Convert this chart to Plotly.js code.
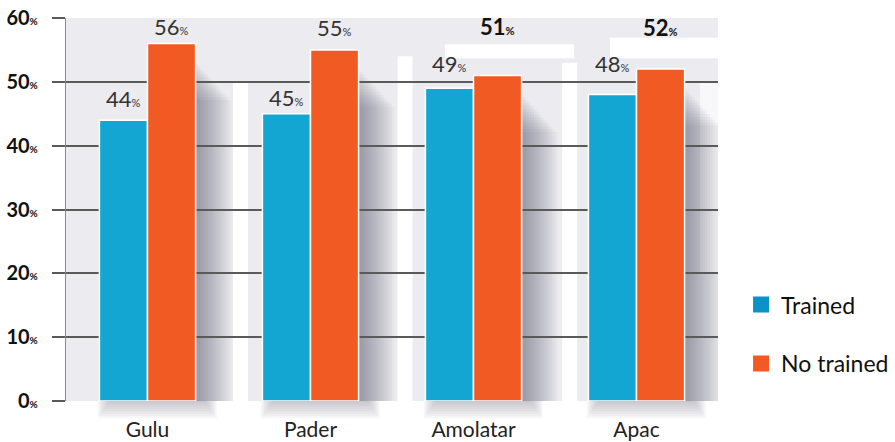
<!DOCTYPE html>
<html>
<head>
<meta charset="utf-8">
<script src="https://cdn.plot.ly/plotly-3.0.1.min.js"></script>
<style>
  html, body { margin: 0; padding: 0; background: #ffffff; }
  #chart { width: 895px; height: 442px; }
</style>
</head>
<body>
<div id="chart"></div>
<script>
// Share of respondents by district, trained vs not trained
const districts = ['Gulu', 'Pader', 'Amolatar', 'Apac'];
const trained = [44, 45, 49, 48];
const noTrained = [56, 55, 51, 52];
const yTicks = [0, 10, 20, 30, 40, 50, 60];

const BLUE = '#13a6d3';
const ORANGE = '#f15a22';

// value label offsets (pixels above bar top) and weight
const trainedLift = [6, 1, 9, 16];
const noTrainedLift = [2, 7, 33, 26];
const noTrainedBold = [false, false, true, true];

const pct = (v, bold) => {
  const num = bold ? '<b>' + v + '</b>' : String(v);
  return num + '<span style="font-size:11px">' + (bold ? '<b>%</b>' : '%') + '</span>';
};

const traces = [
  {
    type: 'bar', name: 'Trained', x: districts, y: trained,
    marker: { color: BLUE, line: { color: '#ffffff', width: 1.5 } },
    hoverinfo: 'skip', showlegend: false
  },
  {
    type: 'bar', name: 'No trained', x: districts, y: noTrained,
    marker: { color: ORANGE, line: { color: '#ffffff', width: 1.5 } },
    hoverinfo: 'skip', showlegend: false
  },
  // legend keys with larger square swatches
  {
    type: 'scatter', mode: 'markers', name: 'Trained', x: [null], y: [null],
    marker: { symbol: 'square', size: 16, color: '#0b92c9' },
    legendgroup: 'a', hoverinfo: 'skip'
  },
  {
    type: 'scatter', mode: 'markers', name: 'No trained', x: [null], y: [null],
    marker: { symbol: 'square', size: 16, color: ORANGE },
    legendgroup: 'b', hoverinfo: 'skip'
  }
];

const half = 0.295; // half group width in category units
const annotations = [];
districts.forEach((d, i) => {
  annotations.push({
    x: i - half / 2, y: trained[i], xref: 'x', yref: 'y',
    text: pct(trained[i], false), showarrow: false,
    yanchor: 'bottom', yshift: trainedLift[i],
    font: { family: 'Lato, sans-serif', size: 22, color: '#333333' }
  });
  annotations.push({
    x: i + half / 2, y: noTrained[i], xref: 'x', yref: 'y',
    text: pct(noTrained[i], noTrainedBold[i]), showarrow: false,
    yanchor: 'bottom', yshift: noTrainedLift[i],
    font: { family: 'Lato, sans-serif', size: 22, color: noTrainedBold[i] ? '#111111' : '#333333' }
  });
});

// background light bands
const shapes = [];
const bandX = [0.57, 1.58, 2.59];
const bandTop = [50, 54, 53];
bandX.forEach((bx, j) => {
  shapes.push({
    type: 'rect', layer: 'below', xref: 'x', yref: 'y',
    x0: bx - 0.046, x1: bx + 0.046, y0: 0, y1: bandTop[j],
    fillcolor: '#ffffff', line: { width: 0 }
  });
});
shapes.push({
  type: 'rect', layer: 'below', xref: 'x', yref: 'y',
  x0: 3.39, x1: 3.5, y0: 20, y1: 50,
  fillcolor: '#f8f8fa', line: { width: 0 }
});
shapes.push({
  type: 'rect', layer: 'below', xref: 'x', yref: 'y',
  x0: 1.825, x1: 2.617, y0: 53.7, y1: 55.9,
  fillcolor: '#ffffff', line: { width: 0 }
});
shapes.push({
  type: 'rect', layer: 'below', xref: 'x', yref: 'y',
  x0: 2.837, x1: 3.5, y0: 53.7, y1: 56.9,
  fillcolor: '#ffffff', line: { width: 0 }
});

// soft drop shadows to the right of and beneath each group
districts.forEach((d, i) => {
  for (let k = 0; k < 14; k++) {
    shapes.push({
      type: 'rect', layer: 'below', xref: 'x', yref: 'y',
      x0: i + half, x1: i + half + 0.012 + k * 0.016,
      y0: 0, y1: noTrained[i] - 3 - k * 0.45,
      fillcolor: 'rgba(70,70,85,0.045)', line: { width: 0 }
    });
  }
  for (let k = 0; k < 8; k++) {
    shapes.push({
      type: 'rect', layer: 'below', xref: 'x', yref: 'paper',
      x0: i - half + 0.06 - k * 0.01, x1: i + half + 0.06 + k * 0.01,
      y0: -0.003 - k * 0.006, y1: 0,
      fillcolor: 'rgba(110,110,120,0.055)', line: { width: 0 }
    });
  }
});

const layout = {
  width: 895, height: 442,
  margin: { l: 66, r: 177, t: 18, b: 41 },
  paper_bgcolor: '#ffffff',
  plot_bgcolor: '#ececf0',
  barmode: 'group',
  bargap: 0.41,
  bargroupgap: 0,
  font: { family: 'Lato, sans-serif', color: '#222222' },
  xaxis: {
    type: 'category', range: [-0.5, 3.5],
    showgrid: false, zeroline: false, showline: false,
    ticks: '', ticklabelstandoff: 14,
    tickfont: { family: 'Lato, sans-serif', size: 21, color: '#222222' },
    fixedrange: true
  },
  yaxis: {
    range: [0, 60], tickvals: yTicks,
    ticktext: yTicks.map(v => '<b>' + v + '</b><span style="font-size:10px"><b>%</b></span>'),
    showgrid: true, gridcolor: '#5a5a5a', gridwidth: 2,
    zeroline: false,
    showline: true, linecolor: '#8a8a8a', linewidth: 1.2,
    ticks: 'outside', ticklen: 13, tickcolor: '#5a5a5a', tickwidth: 2,
    ticklabelstandoff: 10,
    tickfont: { family: 'Lato, sans-serif', size: 20, color: '#111111' },
    fixedrange: true
  },
  showlegend: true,
  legend: {
    xref: 'container', yref: 'container',
    x: 0.828, y: 0.244, xanchor: 'left', yanchor: 'middle',
    font: { family: 'Lato, sans-serif', size: 23, color: '#111111' },
    bgcolor: 'rgba(0,0,0,0)', tracegroupgap: 26, traceorder: 'grouped',
    itemwidth: 30
  },
  shapes: shapes,
  annotations: annotations
};

Plotly.newPlot('chart', traces, layout, { displayModeBar: false, staticPlot: true });
</script>
</body>
</html>
